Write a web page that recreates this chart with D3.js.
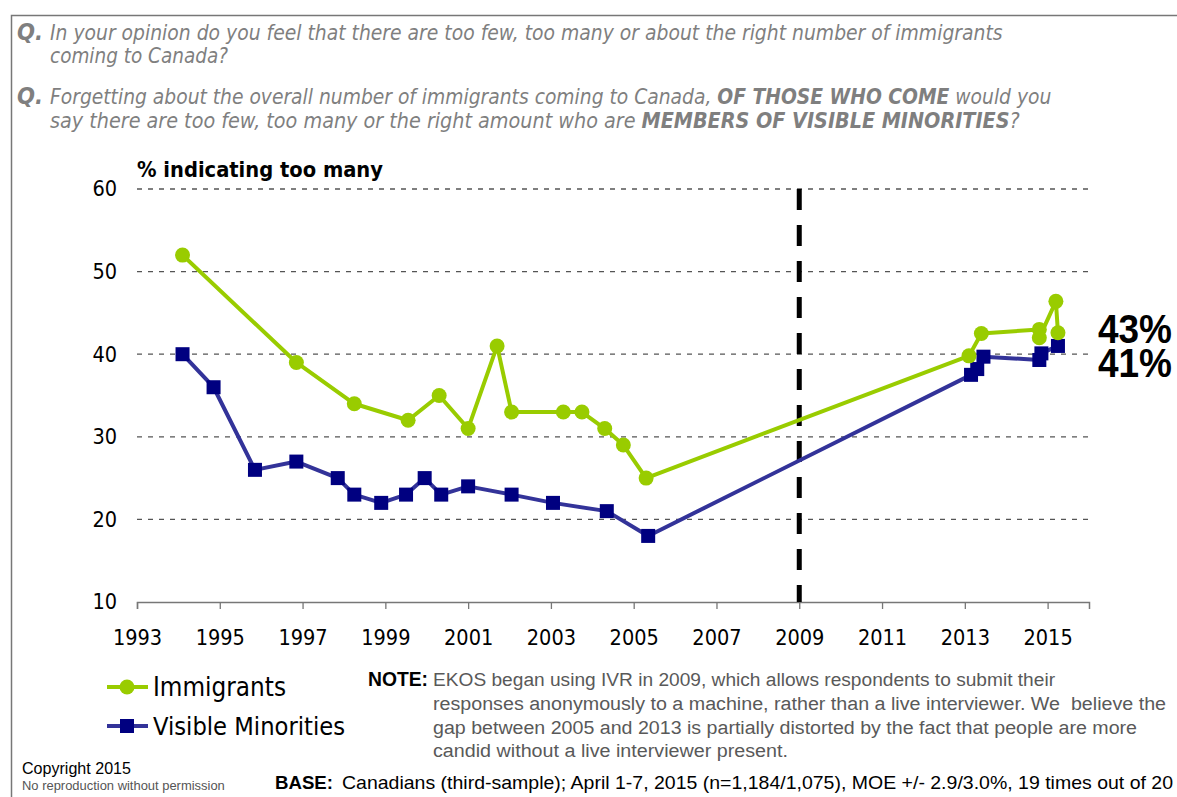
<!DOCTYPE html>
<html><head><meta charset="utf-8">
<script src="https://cdn.jsdelivr.net/npm/d3@7"></script>
<style>
body{margin:0;background:#fff;}
svg{display:block;}
</style></head>
<body>
<svg id="chart" width="1177" height="797"></svg>
<script>
// ---- data ----
const immYears  = [1994.1, 1996.85, 1998.25, 1999.55, 2000.3, 2001.0, 2001.7, 2002.05, 2003.3, 2003.75, 2004.3, 2004.75, 2005.3, 2013.1, 2013.4, 2014.8, 2014.8, 2015.2, 2015.25];
const immValues = [52, 39, 34, 32, 35, 31, 41, 33, 33, 33, 31, 29, 25, 39.8, 42.5, 43, 42, 46.4, 42.6];
const vmYears   = [1994.1, 1994.85, 1995.85, 1996.85, 1997.85, 1998.25, 1998.9, 1999.5, 1999.95, 2000.35, 2001.0, 2002.05, 2003.05, 2004.35, 2005.35, 2013.15, 2013.3, 2013.45, 2014.8, 2014.85, 2015.25];
const vmValues  = [40, 36, 26, 27, 25, 23, 22, 23, 25, 23, 24, 23, 22, 21, 18, 37.5, 38.2, 39.7, 39.3, 40.1, 41];
const xTicks = [1993, 1995, 1997, 1999, 2001, 2003, 2005, 2007, 2009, 2011, 2013, 2015];
const yTicks = [10, 20, 30, 40, 50, 60];
const endLabels = ["43%", "41%"];
const seriesNames = ["Immigrants", "Visible Minorities"];
const ivrYear = 2009;

const svg = d3.select("#chart");
const GREEN = "#99CC00", NAVY_LINE = "#333399", NAVY = "#000080";
const tahoma = "'DejaVu Sans Condensed','DejaVu Sans',Verdana,sans-serif";
const narrow = "'Liberation Sans Narrow','Arial Narrow','Liberation Sans',Arial,sans-serif";
const arial = "'Liberation Sans',Arial,sans-serif";

function fit(sel, W){
  const n = sel.node();
  const w = n.getBBox().width;
  const fs = parseFloat(sel.attr("font-size"));
  sel.attr("font-size", (fs*W/w).toFixed(2));
}

svg.append("rect").attr("width",1177).attr("height",797).attr("fill","#fff");
// frame
svg.append("path").attr("d","M11.5,797 V15.5 H1177").attr("fill","none").attr("stroke","#777").attr("stroke-width",1.5);

// questions
const qCol = "#7f7f7f";
function qline(x, y, parts, W){
  const t = svg.append("text").attr("x",x).attr("y",y).attr("font-family",tahoma)
    .attr("font-style","italic").attr("font-size",19).attr("fill",qCol);
  parts.forEach(p => t.append("tspan").text(p[0]).attr("font-weight", p[1] ? "bold" : "normal"));
  if (W) fit(t, W);
  return t;
}
qline(17, 40, [["Q.",1]], 26);
qline(50, 40, [["In your opinion do you feel that there are too few, too many or about the right number of immigrants",0]], 953);
qline(50, 63, [["coming to Canada?",0]], 178);
qline(17, 104, [["Q.",1]], 26);
qline(50, 104, [["Forgetting about the overall number of immigrants coming to Canada, ",0],["OF THOSE WHO COME",1],[" would you",0]], 1002);
qline(50, 128, [["say there are too few, too many or the right amount who are ",0],["MEMBERS OF VISIBLE MINORITIES",1],["?",0]], 970);

// scales
const x = d3.scaleLinear().domain([1993, 2016]).range([137, 1089]);
const y = d3.scaleLinear().domain([10, 60]).range([602, 189]);

// gridlines
svg.append("g").selectAll("line").data(yTicks.filter(d => d > 10)).join("line")
  .attr("x1", x(1993)).attr("x2", x(2016)).attr("y1", d => y(d)).attr("y2", d => y(d))
  .attr("stroke", "#555").attr("stroke-width", 1.3).attr("stroke-dasharray", "5,6");

// x axis
const xAxis = svg.append("g").attr("transform", `translate(0,${y(10)})`)
  .call(d3.axisBottom(x).tickValues(xTicks).tickFormat(d3.format("d")).tickSize(7).tickPadding(21));
xAxis.select(".domain").attr("stroke", "#777").attr("stroke-width", 1.5);
xAxis.selectAll(".tick line").attr("stroke", "#777").attr("stroke-width", 1.3);
xAxis.selectAll("text").attr("font-family", tahoma).attr("font-size", 21.5).attr("fill", "#000");

// y axis labels
const yAxis = svg.append("g").attr("transform", `translate(${x(1993)},0)`)
  .call(d3.axisLeft(y).tickValues(yTicks).tickSize(0).tickPadding(20));
yAxis.select(".domain").remove();
yAxis.selectAll("text").attr("font-family", tahoma).attr("font-size", 21.5).attr("fill", "#000");

// y title
const yt = svg.append("text").attr("x", 137).attr("y", 177).attr("font-family", tahoma)
  .attr("font-weight", "bold").attr("font-size", 19).attr("fill", "#000").text("% indicating too many");
fit(yt, 246);

// IVR dashed vertical line
svg.append("line").attr("x1", x(ivrYear)).attr("x2", x(ivrYear)).attr("y1", y(60)).attr("y2", y(10))
  .attr("stroke", "#000").attr("stroke-width", 5).attr("stroke-dasharray", "21,15");

// series
const imm = immYears.map((d, i) => [d, immValues[i]]);
const vm = vmYears.map((d, i) => [d, vmValues[i]]);
const line = d3.line().x(d => x(d[0])).y(d => y(d[1]));

svg.append("path").datum(vm).attr("d", line).attr("fill", "none").attr("stroke", NAVY_LINE).attr("stroke-width", 4).attr("stroke-linejoin","round");
svg.append("g").selectAll("rect").data(vm).join("rect")
  .attr("x", d => x(d[0]) - 7).attr("y", d => y(d[1]) - 7).attr("width", 14).attr("height", 14).attr("fill", NAVY);

svg.append("path").datum(imm).attr("d", line).attr("fill", "none").attr("stroke", GREEN).attr("stroke-width", 4).attr("stroke-linejoin","round");
svg.append("g").selectAll("circle").data(imm).join("circle")
  .attr("cx", d => x(d[0])).attr("cy", d => y(d[1])).attr("r", 7.5).attr("fill", GREEN);

// end labels
[[343, endLabels[0]], [377, endLabels[1]]].forEach(l => {
  svg.append("text").attr("x", 1098).attr("y", l[0]).attr("font-family", arial).attr("font-weight", "bold")
    .attr("font-size", 40).attr("fill", "#000").text(l[1])
    .attr("textLength", 74).attr("lengthAdjust", "spacingAndGlyphs");
});

// legend
const lg = svg.append("g");
[[687, GREEN, GREEN, "circle"], [726, NAVY_LINE, NAVY, "rect"]].forEach((r, i) => {
  lg.append("line").attr("x1", 107).attr("x2", 148).attr("y1", r[0]).attr("y2", r[0]).attr("stroke", r[1]).attr("stroke-width", 4);
  if (r[3] === "circle") lg.append("circle").attr("cx", 127).attr("cy", r[0]).attr("r", 7.5).attr("fill", r[2]);
  else lg.append("rect").attr("x", 120).attr("y", r[0] - 7).attr("width", 14).attr("height", 14).attr("fill", r[2]);
  const t = lg.append("text").attr("x", 153).attr("y", r[0] + 9).attr("font-family", tahoma).attr("font-size", 25).attr("fill", "#000").text(seriesNames[i]);
  fit(t, i === 0 ? 133 : 192);
});

// note
const nt = svg.append("text").attr("x", 368).attr("y", 686).attr("font-family", arial).attr("font-weight", "bold")
  .attr("font-size", 17).attr("fill", "#000").text("NOTE:");
fit(nt, 60);
const noteLines = [
  ["EKOS began using IVR in 2009, which allows respondents to submit their", 622],
  ["responses anonymously to a machine, rather than a live interviewer. We  believe the", 733],
  ["gap between 2005 and 2013 is partially distorted by the fact that people are more", 704],
  ["candid without a live interviewer present.", 355]
];
noteLines.forEach((l, i) => {
  const t = svg.append("text").attr("x", 433).attr("y", 686 + i * 23.8).attr("font-family", narrow)
    .attr("font-size", 18).attr("fill", "#595959").style("white-space", "pre").text(l[0]);
  t.attr("textLength", l[1]).attr("lengthAdjust", "spacingAndGlyphs");
});

// base
const bt = svg.append("text").attr("x", 275).attr("y", 789).attr("font-family", arial).attr("font-weight", "bold")
  .attr("font-size", 19).attr("fill", "#000").text("BASE:");
fit(bt, 58);
svg.append("text").attr("x", 342).attr("y", 789).attr("font-family", narrow).attr("font-size", 19).attr("fill", "#000")
  .text("Canadians (third-sample); April 1-7, 2015 (n=1,184/1,075), MOE +/- 2.9/3.0%, 19 times out of 20")
  .attr("textLength", 831).attr("lengthAdjust", "spacingAndGlyphs");

// copyright
const c1 = svg.append("text").attr("x", 22).attr("y", 774).attr("font-family", arial).attr("font-size", 15).attr("fill", "#000").text("Copyright 2015");
fit(c1, 109);
const c2 = svg.append("text").attr("x", 22).attr("y", 790).attr("font-family", arial).attr("font-size", 11.5).attr("fill", "#555").text("No reproduction without permission");
fit(c2, 203);
</script>
</body></html>
